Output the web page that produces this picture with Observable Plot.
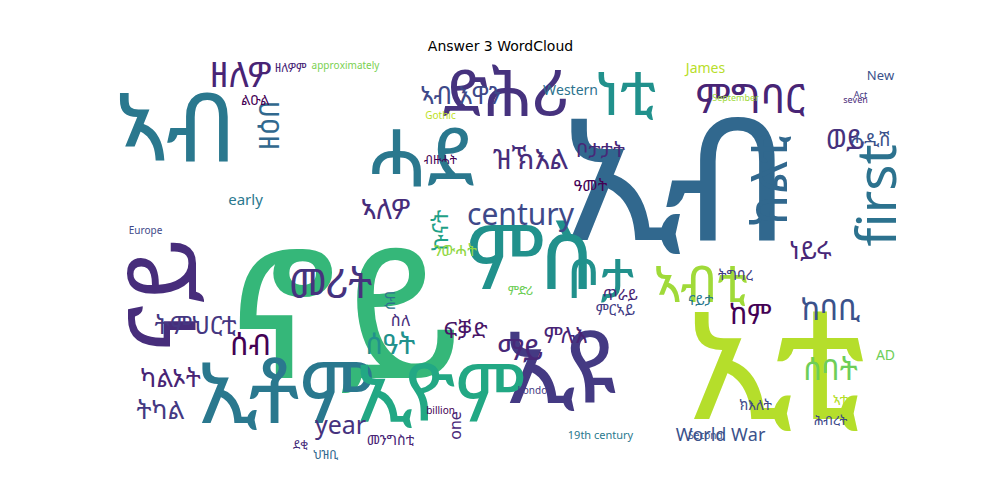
<!DOCTYPE html>
<html>
<head>
<meta charset="utf-8">
<script src="https://cdn.jsdelivr.net/npm/d3@7"></script>
<script src="https://cdn.jsdelivr.net/npm/@observablehq/plot@0.6"></script>
<style>body{margin:0;background:#fff}</style>
</head>
<body>
<div id="chart"></div>
<script>
const title = "Answer 3 WordCloud";
// word, x, y (pixel layout positions), font size, colour, rotation
const words = ["ኖይ","ኢብ","ኢቲ","ኢዩ","ኢቶም","ኢዮም","ምስ","ሓደ","ድሕሪ","ነቲ","ኣብ","ናይ","first","century","ምግባር","ክልቲ","ኣብቲ","ቦታ","ዘለዎ","መሪት","ሰዓት","ሰባት","ሰብ","ከባቢ","ነይሩ","ወይ","ትምህርቲ","ካልኦት","ትካል","ማይ","year","World War","ዝኽእል","ኣለዎ","ከም","ምሉእ","ፍቓድ","ዘዕበ","ኣብ እዋን","ኩናት","ሓዲሽ","ቦታታት","Western","James","New","early","ዓመት","ንውሓት","ክእለት","ጥራይ","ምርኣይ","one","AD","ሰብ","ኣቲ","ስለ","ዘለዎም","ልዑል","ናይታ","ምድሪ","London","19th century","approximately","billion","Europe","Second","September","seven","Act","Gothic","ትግባረ","ህዝቢ","ብዙሓት","ሕብረት","መንግስቲ","ደቂ"];
const xs = [345,675,775,560,285,440,530,420,505,625,175,165,878,520,750,770,700,600,240,330,390,830,250,830,810,845,195,170,160,520,340,720,530,385,750,565,465,270,460,440,870,600,570,705,880,245,590,455,755,620,615,455,885,390,840,400,290,255,700,520,535,600,345,440,145,705,735,855,860,440,735,325,440,830,390,300];
const ys = [320,185,370,370,395,395,260,160,95,95,130,295,195,215,100,180,285,280,75,285,345,370,345,310,250,140,325,378,410,350,425,435,160,210,315,335,330,125,95,230,140,150,90,68,75,200,185,250,405,295,310,425,355,300,400,320,68,100,300,290,390,435,65,410,230,435,98,100,95,115,275,455,160,420,440,445];
const sizes = [180,170,150,100,85,80,90,80,65,60,95,95,55,30,40,50,50,55,35,40,28,30,30,30,25,28,25,25,25,30,25,18,28,28,28,22,22,28,25,22,18,20,14,14,13,15,16,16,14,15,15,16,14,14,14,16,12,14,14,13,10,11,10,10,10,10,9,9,9,10,14,12,12,13,14,12];
const colors = ["#35b779","#31688e","#b5de2b","#443a83","#2a788e","#22a884","#21918c","#2a788e","#46327e","#21918c","#2a788e","#472d7b","#2c728e","#3e4989","#482475","#31688e","#a0da39","#21918c","#482475","#46327e","#21918c","#6ece58","#440154","#3b528b","#482878","#46327e","#453781","#482475","#443983","#482878","#46327e","#3b528b","#472d7b","#472d7b","#440154","#482475","#481567","#31688e","#3e4989","#1fa187","#3b528b","#482878","#2c728e","#b8de29","#3b528b","#2a788e","#440154","#90d743","#3e4989","#482475","#433e85","#482878","#6ece58","#2c728e","#b5de2b","#472d7b","#482475","#440154","#2a788e","#6ece58","#443983","#2a788e","#7ad151","#440154","#3e4989","#3b528b","#a0da39","#482878","#443983","#bddf26","#433e85","#31688e","#440154","#3e4989","#482475","#472d7b"];
const rotations = [0,0,0,0,0,0,0,0,0,0,0,-90,-90,0,0,-90,0,0,0,0,0,0,0,0,0,0,0,0,0,0,0,0,0,0,0,0,0,-90,0,-90,0,0,0,0,0,0,0,0,0,0,0,-90,0,-90,0,0,0,0,0,0,0,0,0,0,0,0,0,0,0,0,0,0,0,0,0,0];

const data = words.map((w, i) => ({w, x: xs[i], y: ys[i], s: sizes[i], c: colors[i], r: rotations[i]}));

const chart = Plot.plot({
  width: 1000,
  height: 500,
  margin: 0,
  x: {domain: [0, 1000], axis: null},
  y: {domain: [0, 500], range: [0, 500], axis: null},
  marks: [
    Plot.text([title], {x: 500, y: 46, text: d => d, fontSize: 14, fill: "#000", fontFamily: "DejaVu Sans"}),
    Plot.text(data, {
      x: "x", y: "y", text: "w",
      fontSize: d => d.s,
      fill: d => d.c,
      rotate: "r",
      fontFamily: "Noto Sans Ethiopic, Noto Sans, DejaVu Sans",
      textAnchor: "middle",
      lineAnchor: "middle"
    })
  ]
});
document.getElementById("chart").append(chart);
</script>
</body>
</html>
